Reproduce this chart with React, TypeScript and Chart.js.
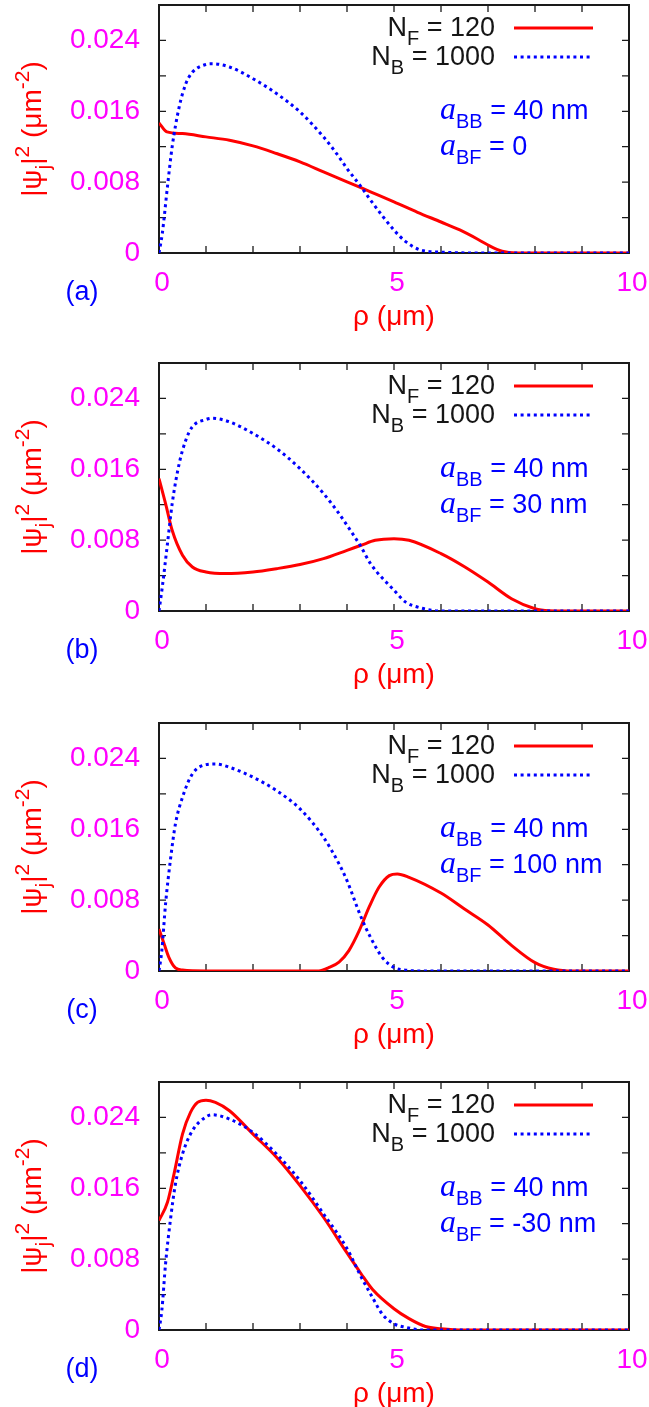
import React, { useEffect, useRef } from 'react';
import { Chart, registerables } from 'chart.js';

Chart.register(...registerables);

// ---------- data ----------
// Panel (a): a_BF = 0
const fermiXA = [0, 0.17, 0.5, 1, 1.5, 2, 2.5, 3, 3.5, 4, 4.5, 5, 5.5, 6, 6.4, 6.8, 7.0, 7.3, 7.6, 8, 9, 10];
const fermiYA = [0.01469, 0.01367, 0.01348, 0.01311, 0.01273, 0.01209, 0.01123, 0.01029, 0.00916, 0.00804, 0.00691, 0.00578, 0.0046, 0.0035, 0.0026, 0.0015, 0.0009, 0.0002, 0, 0, 0, 0];
const boseXA = [0, 0.07, 0.18, 0.28, 0.43, 0.57, 0.71, 1.0, 1.13, 1.5, 2.0, 2.5, 3.0, 3.5, 3.83, 4.0, 4.3, 4.5, 5.0, 5.25, 5.53, 6.0, 7, 8, 9, 10];
const boseYA = [0, 0.0022, 0.0075, 0.012, 0.0165, 0.0191, 0.0204, 0.0213, 0.02137, 0.021, 0.01968, 0.018, 0.01592, 0.01311, 0.01085, 0.00954, 0.00747, 0.00597, 0.00259, 0.00128, 0.0004, 0.0001, 0, 0, 0, 0];

// Panel (b): a_BF = 30 nm
const fermiXB = [0, 0.14, 0.28, 0.5, 0.71, 1.0, 1.42, 2.0, 2.5, 3.0, 3.5, 4.0, 4.3, 4.6, 5.0, 5.32, 6.0, 6.5, 7.0, 7.5, 8.0, 8.3, 8.6, 9, 10];
const fermiYB = [0.01495, 0.01213, 0.00911, 0.00629, 0.00497, 0.00441, 0.00422, 0.00441, 0.00478, 0.00524, 0.00591, 0.00685, 0.00742, 0.00798, 0.00817, 0.00798, 0.00648, 0.005, 0.00327, 0.00139, 0.00026, 0.00003, 0, 0, 0];
const boseXB = [0, 0.07, 0.18, 0.28, 0.43, 0.57, 0.71, 1.0, 1.13, 1.5, 2.0, 2.5, 3.0, 3.5, 3.83, 4.0, 4.3, 4.5, 5.0, 5.25, 5.53, 6.0, 7, 8, 9, 10];
const boseYB = [0, 0.0027, 0.0076, 0.0121, 0.01665, 0.01928, 0.0208, 0.02162, 0.02177, 0.02135, 0.02004, 0.01834, 0.01608, 0.01326, 0.011, 0.00968, 0.00723, 0.00535, 0.00234, 0.001, 0.0004, 0, 0, 0, 0, 0];

// Panel (c): a_BF = 100 nm
const fermiXC = [0, 0.11, 0.21, 0.35, 0.5, 1, 2, 3, 3.4, 3.62, 3.83, 4.04, 4.26, 4.47, 4.68, 4.9, 5.07, 5.32, 6.0, 6.5, 7.0, 7.5, 8.0, 8.4, 8.8, 9, 10];
const fermiYC = [0.00474, 0.00305, 0.00154, 0.00034, 0.0001, 0, 0, 0, 0, 0.0004, 0.001, 0.0023, 0.00455, 0.0072, 0.00945, 0.01077, 0.01096, 0.01058, 0.0088, 0.007, 0.0052, 0.0029, 0.00095, 0.0002, 0, 0, 0];
const boseXC = [0, 0.06, 0.14, 0.25, 0.35, 0.5, 0.71, 1.0, 1.2, 1.5, 2.0, 2.5, 3.0, 3.5, 3.83, 4.0, 4.3, 4.5, 4.75, 5.0, 5.25, 5.6, 6, 7, 8, 9, 10];
const boseYC = [0, 0.0023, 0.0076, 0.01284, 0.01661, 0.01962, 0.02225, 0.0233, 0.02338, 0.023, 0.02188, 0.02037, 0.0183, 0.0151, 0.0121, 0.0102, 0.00607, 0.0038, 0.00154, 0.0004, 0.0001, 0, 0, 0, 0, 0, 0];

// Panel (d): a_BF = -30 nm
const fermiXD = [0, 0.18, 0.32, 0.5, 0.67, 0.82, 1.0, 1.2, 1.5, 2.0, 2.5, 3.0, 3.5, 4.0, 4.3, 4.54, 5.0, 5.32, 5.67, 6.0, 6.5, 7, 8, 9, 10];
const fermiYD = [0.01236, 0.01442, 0.01762, 0.02212, 0.02456, 0.02569, 0.02595, 0.02569, 0.02475, 0.02212, 0.0195, 0.0163, 0.01273, 0.0087, 0.00635, 0.0046, 0.0024, 0.00128, 0.0004, 0.00015, 0, 0, 0, 0, 0];
const boseXD = [0, 0.06, 0.14, 0.25, 0.35, 0.5, 0.71, 1.0, 1.13, 1.5, 2.0, 2.5, 3.0, 3.5, 4.0, 4.3, 4.54, 4.75, 5.0, 5.25, 5.6, 6, 7, 8, 9, 10];
const boseYD = [0, 0.0022, 0.0075, 0.01273, 0.01649, 0.01987, 0.0225, 0.02407, 0.0243, 0.02381, 0.02231, 0.01987, 0.01686, 0.01311, 0.0092, 0.006, 0.0037, 0.0018, 0.0007, 0.0003, 0, 0, 0, 0, 0, 0];

const panelLetters = ['(a)', '(b)', '(c)', '(d)'];
const aBFValues = ['0', '30 nm', '100 nm', '-30 nm'];
const aBBValue = '40 nm';
const fermiLegend = ' = 120';
const boseLegend = ' = 1000';
const yTickLabels = ['0', '0.008', '0.016', '0.024'];
const xTickLabels = ['0', '5', '10'];

const fermiX = [fermiXA, fermiXB, fermiXC, fermiXD];
const fermiY = [fermiYA, fermiYB, fermiYC, fermiYD];
const boseX = [boseXA, boseXB, boseXC, boseXD];
const boseY = [boseYA, boseYB, boseYC, boseYD];

// ---------- layout / style ----------
const W = 649;
const TOPS = [0, 358, 718, 1077];
const HEIGHTS = [358, 360, 359, 330];
const PLOT_TOP = 5;
const PLOT_H = 248;
const LEFT_W = 159;
const RIGHT_PAD = 20;
const SANS = '"Liberation Sans", Arial, Helvetica, sans-serif';
const SERIF = '"Liberation Serif", "Times New Roman", serif';
const RED = 'rgb(255,0,0)';
const BLUE = 'rgb(0,0,255)';
const MAGENTA = 'rgb(255,0,255)';
const DOT_DASH = [3, 3.6];

type Seg = { t: string; k?: 'sub' | 'sup' | 'ital' };

function fontFor(s: Seg, size: number) {
  if (s.k === 'sub' || s.k === 'sup') return `${Math.round(size * 0.75)}px ${SANS}`;
  if (s.k === 'ital') return `italic ${Math.round(size * 1.2)}px ${SERIF}`;
  return `${size}px ${SANS}`;
}

function drawRich(ctx: CanvasRenderingContext2D, segs: Seg[], x: number, cy: number, align: 'left' | 'right' | 'center', size: number, color: string) {
  ctx.save();
  ctx.textAlign = 'left';
  ctx.textBaseline = 'alphabetic';
  ctx.fillStyle = color;
  const widths = segs.map((s) => {
    ctx.font = fontFor(s, size);
    return ctx.measureText(s.t).width;
  });
  const total = widths.reduce((a, b) => a + b, 0);
  let cx = align === 'left' ? x : align === 'right' ? x - total : x - total / 2;
  const base = cy + 0.36 * size;
  segs.forEach((s, i) => {
    ctx.font = fontFor(s, size);
    const dy = s.k === 'sub' ? 0.33 * size : s.k === 'sup' ? -0.42 * size : 0;
    ctx.fillText(s.t, cx, base + dy);
    cx += widths[i];
  });
  ctx.restore();
}

function makeDecor(panel: number) {
  return {
    id: 'gnuplotDecor' + panel,
    beforeDatasetsDraw(chart: any) {
      const { ctx, chartArea: a } = chart;
      const xs = chart.scales.x;
      const ys = chart.scales.y;
      ctx.save();
      ctx.strokeStyle = '#1a1a1a';
      ctx.lineWidth = 1.3;
      const tl = 7;
      ctx.beginPath();
      xs.ticks.forEach((t: any) => {
        if (t.value <= xs.min || t.value >= xs.max) return;
        const px = xs.getPixelForValue(t.value);
        ctx.moveTo(px, a.bottom);
        ctx.lineTo(px, a.bottom - tl);
        ctx.moveTo(px, a.top);
        ctx.lineTo(px, a.top + tl);
      });
      ys.ticks.forEach((t: any) => {
        if (t.value <= ys.min + 1e-9 || t.value >= ys.max - 1e-9) return;
        const py = ys.getPixelForValue(t.value);
        ctx.moveTo(a.left, py);
        ctx.lineTo(a.left + tl, py);
        ctx.moveTo(a.right, py);
        ctx.lineTo(a.right - tl, py);
      });
      ctx.stroke();
      ctx.lineWidth = 2;
      ctx.strokeRect(a.left, a.top, a.right - a.left, a.bottom - a.top);
      ctx.restore();
    },
    afterDatasetsDraw(chart: any) {
      const { ctx, chartArea: a } = chart;
      const size = 27;
      // legend
      const lx = a.right - 134;
      drawRich(ctx, [{ t: 'N' }, { t: 'F', k: 'sub' }, { t: fermiLegend }], lx, a.top + 21, 'right', size, '#151515');
      drawRich(ctx, [{ t: 'N' }, { t: 'B', k: 'sub' }, { t: boseLegend }], lx, a.top + 50, 'right', size, '#151515');
      ctx.save();
      ctx.lineWidth = 3;
      ctx.strokeStyle = RED;
      ctx.beginPath();
      ctx.moveTo(a.right - 115, a.top + 23);
      ctx.lineTo(a.right - 36, a.top + 23);
      ctx.stroke();
      ctx.strokeStyle = BLUE;
      ctx.setLineDash(DOT_DASH);
      ctx.beginPath();
      ctx.moveTo(a.right - 115, a.top + 52);
      ctx.lineTo(a.right - 36, a.top + 52);
      ctx.stroke();
      ctx.restore();
      // annotations
      const ax = a.right - 189;
      drawRich(ctx, [{ t: 'a', k: 'ital' }, { t: 'BB', k: 'sub' }, { t: ' = ' + aBBValue }], ax, a.top + 104, 'left', size, BLUE);
      drawRich(ctx, [{ t: 'a', k: 'ital' }, { t: 'BF', k: 'sub' }, { t: ' = ' + aBFValues[panel] }], ax, a.top + 140, 'left', size, BLUE);
      // panel letter
      drawRich(ctx, [{ t: panelLetters[panel] }], a.left - 77, a.bottom + 37, 'center', size, BLUE);
      // x title
      drawRich(ctx, [{ t: 'ρ (μm)' }], (a.left + a.right) / 2, a.bottom + 62, 'center', 28, RED);
      // y title (rotated)
      ctx.save();
      ctx.translate(31, (a.top + a.bottom) / 2);
      ctx.rotate(-Math.PI / 2);
      drawRich(ctx, [{ t: '|ψ' }, { t: 'j', k: 'sub' }, { t: '|' }, { t: '2', k: 'sup' }, { t: ' (μm' }, { t: '-2', k: 'sup' }, { t: ')' }], 0, 0, 'center', 28, RED);
      ctx.restore();
    },
  };
}

function pts(xs: number[], ys: number[]) {
  return xs.map((x, i) => ({ x, y: ys[i] }));
}

function zeroPad(s: any) {
  s.paddingTop = 0;
  s.paddingBottom = 0;
  s.paddingLeft = 0;
  s.paddingRight = 0;
}

function Panel({ idx }: { idx: number }) {
  const ref = useRef<HTMLCanvasElement>(null);
  const H = HEIGHTS[idx];
  useEffect(() => {
    if (!ref.current) return;
    const chart = new Chart(ref.current, {
      type: 'line',
      data: {
        datasets: [
          {
            label: 'N_F = 120',
            data: pts(fermiX[idx], fermiY[idx]),
            borderColor: RED,
            borderWidth: 3,
            pointRadius: 0,
            cubicInterpolationMode: 'monotone',
            fill: false,
            order: 1,
          },
          {
            label: 'N_B = 1000',
            data: pts(boseX[idx], boseY[idx]),
            borderColor: BLUE,
            borderWidth: 3,
            borderDash: DOT_DASH,
            borderCapStyle: 'butt',
            pointRadius: 0,
            cubicInterpolationMode: 'monotone',
            fill: false,
            order: 0,
          },
        ],
      },
      options: {
        responsive: false,
        animation: false,
        devicePixelRatio: 1,
        layout: { padding: { top: PLOT_TOP, right: RIGHT_PAD, left: 0, bottom: 0 } },
        plugins: { legend: { display: false }, tooltip: { enabled: false } },
        scales: {
          x: {
            type: 'linear',
            min: 0,
            max: 10,
            grid: { display: false, drawTicks: false },
            border: { display: false },
            ticks: {
              stepSize: 1,
              autoSkip: false,
              maxRotation: 0,
              padding: 13,
              labelOffset: 3,
              color: MAGENTA,
              font: { family: SANS, size: 28 },
              callback: (v: any) => {
                const n = Math.round(Number(v));
                return n % 5 === 0 ? xTickLabels[n / 5] : '';
              },
            },
            afterFit: (s: any) => {
              s.height = H - PLOT_TOP - PLOT_H;
              zeroPad(s);
            },
          },
          y: {
            type: 'linear',
            min: 0,
            max: 0.028,
            grid: { display: false, drawTicks: false },
            border: { display: false },
            ticks: {
              stepSize: 0.004,
              autoSkip: false,
              padding: 19,
              color: MAGENTA,
              font: { family: SANS, size: 28 },
              callback: (v: any) => {
                const k = Math.round(Number(v) / 0.004);
                return k % 2 === 0 && k <= 6 ? yTickLabels[k / 2] : '';
              },
            },
            afterFit: (s: any) => {
              s.width = LEFT_W;
              zeroPad(s);
            },
          },
        },
      },
      plugins: [makeDecor(idx)],
    } as any);
    return () => chart.destroy();
  }, [idx, H]);
  return (
    <canvas
      ref={ref}
      width={W}
      height={H}
      style={{ position: 'absolute', left: 0, top: TOPS[idx], width: W, height: H, display: 'block' }}
    />
  );
}

export default function App() {
  return (
    <div style={{ position: 'absolute', left: 0, top: 0, width: W, height: 1407, background: '#fff' }}>
      {[0, 1, 2, 3].map((i) => (
        <Panel key={i} idx={i} />
      ))}
    </div>
  );
}
